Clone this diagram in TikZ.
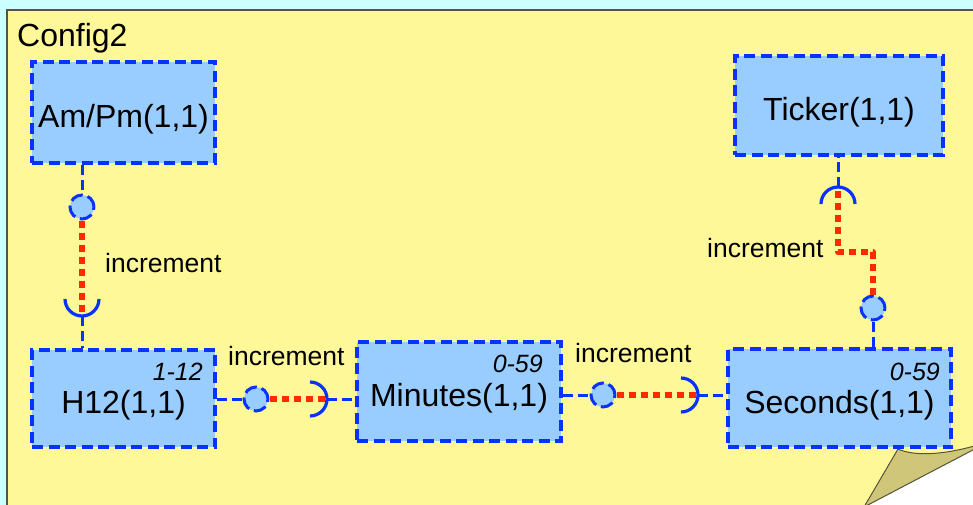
\documentclass[tikz,border=0pt]{standalone}
\usepackage{fontspec}
\setmainfont{Liberation Sans}
\definecolor{bgcyan}{HTML}{CCFFFF}
\definecolor{notey}{HTML}{FFF899}
\definecolor{noteline}{HTML}{55553A}
\definecolor{foldol}{HTML}{CFC67A}
\definecolor{umlblue}{HTML}{0A32FF}
\definecolor{boxblue}{HTML}{99CCFF}
\definecolor{wirered}{HTML}{FF2A00}
\begin{document}
\begin{tikzpicture}[
    x=1pt, y=-1pt, % 画素と同じ座標（y は下向き）
    box/.style={draw=umlblue, fill=boxblue, line width=3.8pt,
      dash pattern=on 11pt off 5.5pt, inner sep=0pt,
      text height=30pt, text depth=0pt, font=\fontsize{32}{38}\selectfont},
    ball/.style={circle, draw=umlblue, fill=boxblue, line width=3pt,
      dash pattern=on 13pt off 5pt, minimum size=24pt, inner sep=0pt},
    sock/.style={draw=umlblue, line width=3.2pt},
    stub/.style={draw=umlblue, line width=3pt, dash pattern=on 10pt off 5pt},
    wire/.style={draw=wirered, line width=6.5pt, dash pattern=on 7pt off 5pt},
    lbl/.style={inner sep=0pt, font=\fontsize{26.5}{32}\selectfont},
    rng/.style={inner sep=0pt, font=\fontsize{25}{30}\selectfont\itshape}
  ]
  \useasboundingbox (0,0) rectangle (973,505);

  % 背景とメモ用紙
  \fill[bgcyan] (0,0) rectangle (973,505);
  \filldraw[fill=notey, draw=noteline, line width=1.8pt]
    (7,10) -- (990,10) -- (990,441) -- (850,514.4) -- (7,514.4) -- cycle;
  \fill[white] (990,441) -- (990,520) -- (850,520) -- (850,514.4) -- cycle;
  % 折り返し
  \filldraw[fill=foldol, draw=noteline, line width=1pt, line join=round]
    (898,449) .. controls (915,457) and (950,455) .. (990,441) -- (864,507) -- cycle;

  \node[anchor=base west, inner sep=0pt, font=\fontsize{32}{38}\selectfont] (cfg) at (17,47) {Config2};

  % 部品
  \node[box, minimum width=183pt, minimum height=101pt] (ampm) at (123.5,112.5) {Am/Pm(1,1)};
  \node[box, minimum width=208pt, minimum height=99pt] (tick) at (839,105.5) {Ticker(1,1)};
  \node[box, minimum width=183pt, minimum height=97pt] (h12) at (123.5,398.5) {H12(1,1)};
  \node[box, minimum width=204pt, minimum height=99pt] (min) at (459,391.5) {Minutes(1,1)};
  \node[box, minimum width=223pt, minimum height=98pt] (sec) at (839.5,398) {Seconds(1,1)};

  \node[rng, anchor=base east] (h12rng) at (203,380) {1-12};
  \node[rng, anchor=base east] (minrng) at (543,372) {0-59};
  \node[rng, anchor=base east] (secrng) at (940,380) {0-59};

  % 玉（インタフェース）
  \node[ball] (b1) at (82,207) {};
  \node[ball] (b2) at (256,399) {};
  \node[ball] (b3) at (603,395) {};
  \node[ball] (b4) at (873,308) {};

  % 受け口（ソケット）の頂点
  \coordinate (sk1) at (82,316);
  \coordinate (sk2) at (327,399);
  \coordinate (sk3) at (698,395);
  \coordinate (sk4) at (838,187);
  \coordinate (bend) at (838,252);

  % 赤い接続線
  \draw[wire] (b1.south) -- (sk1);
  \draw[wire] (b2.east) -- (sk2);
  \draw[wire] (b3.east) -- (sk3);
  \draw[wire, line join=round] (b4.north) |- (bend) -- (sk4);

  % 受け口
  \draw[sock] (sk1) ++(-17,-17) arc[start angle=180, end angle=360, radius=17pt];
  \draw[sock] (sk2) ++(-17,-17) arc[start angle=90, end angle=-90, radius=17pt];
  \draw[sock] (sk3) ++(-17,-17) arc[start angle=90, end angle=-90, radius=17pt];
  \draw[sock] (sk4) ++(-17,17) arc[start angle=180, end angle=0, radius=17pt];

  % 部品とのつなぎ
  \draw[stub] (ampm.south -| b1) -- (b1.north);
  \draw[stub] (sk1) -- (sk1 |- h12.north);
  \draw[stub] (h12.east |- b2) -- (b2.west);
  \draw[stub] (sk2) -- (sk2 -| min.west);
  \draw[stub] (min.east |- b3) -- (b3.west);
  \draw[stub] (sk3) -- (sk3 -| sec.west);
  \draw[stub] (sec.north -| b4) -- (b4.south);
  \draw[stub] (sk4) -- (sk4 |- tick.south);

  \node[lbl, anchor=base west] (inc1) at (105,272) {increment};
  \node[lbl, anchor=base west] (inc2) at (228,365) {increment};
  \node[lbl, anchor=base west] (inc3) at (575,362) {increment};
  \node[lbl, anchor=base west] (inc4) at (707,257) {increment};
\end{tikzpicture}
\end{document}
